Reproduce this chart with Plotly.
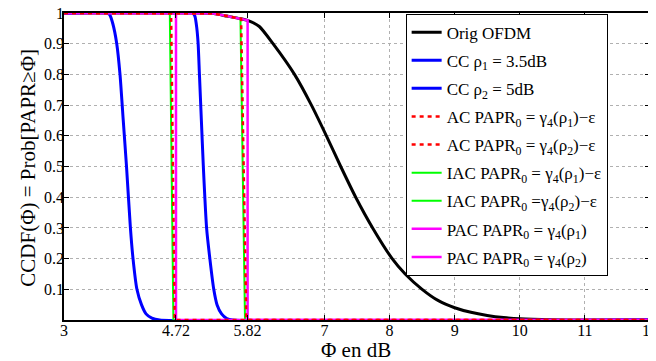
import plotly.graph_objects as go

# ---- data ----
ORIG_X = [3.0, 5.0, 5.3, 5.5, 5.7, 5.82, 6.0, 6.21, 6.54, 6.80, 7.03, 7.25, 7.48, 7.74, 8.04, 8.24, 8.50, 8.75, 9.0, 9.25, 9.5, 9.75, 10.0, 10.5, 11.0, 12.0]
ORIG_Y = [1.0, 1.0, 0.998, 0.99, 0.982, 0.976, 0.956, 0.90, 0.80, 0.70, 0.60, 0.50, 0.40, 0.30, 0.20, 0.15, 0.10, 0.063, 0.040, 0.025, 0.015, 0.008, 0.004, 0.001, 0.0, 0.0]

CC1_X = [3.0, 3.66, 3.70, 3.75, 3.81, 3.86, 3.91, 3.96, 4.02, 4.06, 4.12, 4.19, 4.26, 4.35, 4.47, 12.0]
CC1_Y = [1.0, 1.0, 0.995, 0.965, 0.90, 0.80, 0.65, 0.50, 0.30, 0.20, 0.10, 0.05, 0.02, 0.006, 0.0, 0.0]

CC2_X = [3.0, 4.97, 5.01, 5.04, 5.06, 5.08, 5.11, 5.14, 5.19, 5.24, 5.30, 5.35, 5.42, 5.50, 5.59, 12.0]
CC2_Y = [1.0, 1.0, 0.99, 0.95, 0.90, 0.80, 0.65, 0.50, 0.30, 0.20, 0.10, 0.05, 0.02, 0.005, 0.0, 0.0]

AC1_X = [3.0, 4.645, 4.70, 12.0]
AC1_Y = [1.0, 1.0, 0.0, 0.0]
AC2_X = [3.0, 5.0, 5.3, 5.5, 5.72, 5.80, 12.0]
AC2_Y = [1.0, 1.0, 0.998, 0.99, 0.981, 0.0, 0.0]

IAC1_X = [3.0, 4.625, 4.68, 12.0]
IAC1_Y = [1.0, 1.0, 0.0, 0.0]
IAC2_X = [3.0, 5.0, 5.3, 5.5, 5.71, 5.78, 12.0]
IAC2_Y = [1.0, 1.0, 0.998, 0.99, 0.982, 0.0, 0.0]

PAC1_X = [3.0, 4.72, 4.72, 12.0]
PAC1_Y = [1.0, 1.0, 0.0, 0.0]
PAC2_X = [3.0, 5.0, 5.3, 5.5, 5.7, 5.82, 5.82, 12.0]
PAC2_Y = [1.0, 1.0, 0.998, 0.99, 0.982, 0.976, 0.0, 0.0]

X_TICKS = [3, 4.72, 5.82, 7, 8, 9, 10, 11, 12]
X_TICK_TEXT = ["3", "4.72", "5.82", "7", "8", "9", "10", "11", "12"]
Y_TICKS = [0.1, 0.2, 0.3, 0.4, 0.5, 0.6, 0.7, 0.8, 0.9, 1.0]
Y_TICK_TEXT = ["0.1", "0.2", "0.3", "0.4", "0.5", "0.6", "0.7", "0.8", "0.9", "1"]

NAMES = [
    "Orig OFDM",
    "CC ρ<sub>1</sub> = 3.5dB",
    "CC ρ<sub>2</sub> = 5dB",
    "AC PAPR<sub>0</sub> = γ<sub>4</sub>(ρ<sub>1</sub>)−ε",
    "AC PAPR<sub>0</sub> = γ<sub>4</sub>(ρ<sub>2</sub>)−ε",
    "IAC PAPR<sub>0</sub> = γ<sub>4</sub>(ρ<sub>1</sub>)−ε",
    "IAC PAPR<sub>0</sub> =γ<sub>4</sub>(ρ<sub>2</sub>)−ε",
    "PAC PAPR<sub>0</sub> = γ<sub>4</sub>(ρ<sub>1</sub>)",
    "PAC PAPR<sub>0</sub> = γ<sub>4</sub>(ρ<sub>2</sub>)",
]
X_TITLE = "Φ en dB"
Y_TITLE = "CCDF(Φ) = Prob[PAPR≥Φ]"

FONT = "Liberation Serif, Times New Roman, serif"

fig = go.Figure()

def add(x, y, name, rank, color, width, dash="solid", shape="linear"):
    fig.add_trace(go.Scatter(
        x=x, y=y, mode="lines", name=name, legendrank=rank, legendgroup=f"g{rank}",
        line=dict(color=color, width=width, dash=dash, shape=shape, smoothing=0.6),
        hoverinfo="skip",
    ))

# drawing order (legend order kept by legendrank)
add(ORIG_X, ORIG_Y, NAMES[0], 1, "#000000", 3, shape="spline")
add(CC1_X, CC1_Y, NAMES[1], 2, "#0000ff", 3, shape="spline")
add(CC2_X, CC2_Y, NAMES[2], 3, "#0000ff", 3, shape="spline")
add(IAC1_X, IAC1_Y, NAMES[5], 6, "#00ff00", 2)
add(IAC2_X, IAC2_Y, NAMES[6], 7, "#00ff00", 2)
add(PAC1_X, PAC1_Y, NAMES[7], 8, "#ff00ff", 2.5)
add(PAC2_X, PAC2_Y, NAMES[8], 9, "#ff00ff", 2.5)
add(AC1_X, AC1_Y, NAMES[3], 4, "#ff0000", 2.5, dash="4px,4px")
add(AC2_X, AC2_Y, NAMES[4], 5, "#ff0000", 2.5, dash="4px,4px")

# page body has an 8px margin: figure is 648x353 placed at (8, 8)
fig.update_layout(
    width=648, height=353,
    margin=dict(l=56, r=6, t=5, b=41, autoexpand=False),
    paper_bgcolor="white", plot_bgcolor="white",
    font=dict(family=FONT, size=16, color="black"),
    showlegend=True,
    legend=dict(
        x=0.583, y=0.998, xanchor="left", yanchor="top",
        bgcolor="white", bordercolor="black", borderwidth=1,
        font=dict(family=FONT, size=17, color="black"),
        itemwidth=30, tracegroupgap=3,
    ),
    annotations=[
        dict(text=X_TITLE, xref="paper", yref="paper", x=0.498, y=-0.097,
             xanchor="center", yanchor="middle", showarrow=False,
             font=dict(family=FONT, size=21)),
        dict(text=Y_TITLE, xref="paper", yref="paper", x=-0.062, y=0.495,
             xanchor="center", yanchor="middle", showarrow=False, textangle=-90,
             font=dict(family=FONT, size=21)),
    ],
)

fig.update_xaxes(
    range=[3, 12], tickmode="array", tickvals=X_TICKS, ticktext=X_TICK_TEXT,
    showgrid=True, gridcolor="#b0b0b0", griddash="dot", gridwidth=1,
    showline=True, linecolor="black", linewidth=1.5, mirror="ticks",
    ticks="inside", ticklen=5, tickcolor="black", zeroline=False,
    tickfont=dict(family=FONT, size=16), automargin=False,
    ticklabeloverflow="allow", ticklabelstandoff=-5,
)
fig.update_yaxes(
    range=[0, 1], tickmode="array", tickvals=Y_TICKS, ticktext=Y_TICK_TEXT,
    showgrid=True, gridcolor="#b0b0b0", griddash="dot", gridwidth=1,
    showline=True, linecolor="black", linewidth=1.5, mirror="ticks",
    ticks="inside", ticklen=5, tickcolor="black", zeroline=False,
    tickfont=dict(family=FONT, size=16), automargin=False,
    ticklabeloverflow="allow", ticklabelstandoff=-5,
)

fig.write_html("out.html")
